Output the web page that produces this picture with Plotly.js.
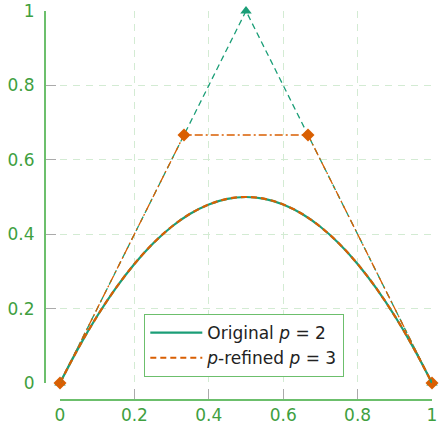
<!DOCTYPE html>
<html><head><meta charset="utf-8">
<script src="https://cdn.plot.ly/plotly-3.0.1.min.js"></script>
<style>html,body{margin:0;padding:0;background:#fff}#c{width:442px;height:424px}</style>
</head><body><div id="c"></div>
<script>
// curve samples
const curveX = [0,0.05,0.1,0.15,0.2,0.25,0.3,0.35,0.4,0.45,0.5,0.55,0.6,0.65,0.7,0.75,0.8,0.85,0.9,0.95,1];
const originalY = [0,0.095,0.18,0.255,0.32,0.375,0.42,0.455,0.48,0.495,0.5,0.495,0.48,0.455,0.42,0.375,0.32,0.255,0.18,0.095,0];
const refinedY  = [0,0.095,0.18,0.255,0.32,0.375,0.42,0.455,0.48,0.495,0.5,0.495,0.48,0.455,0.42,0.375,0.32,0.255,0.18,0.095,0];
// control points
const origCtrlX = [0,0.5,1];
const origCtrlY = [0,1,0];
const refCtrlX = [0,0.3333,0.6667,1];
const refCtrlY = [0,0.6667,0.6667,0];
const tickVals = [0,0.2,0.4,0.6,0.8,1];
const tickText = ['0','0.2','0.4','0.6','0.8','1'];

const teal = '#1b9e77', orange = '#d95f02';
const axisGreen = '#6cbf6c', labelGreen = '#3f9f3f', gridGreen = '#d3ebd3';

const traces = [
  {x: origCtrlX, y: origCtrlY, mode:'lines+markers', showlegend:false, cliponaxis:false,
   line:{color:teal, width:1.3, dash:'6px,4px'},
   marker:{symbol:'triangle-up', size:10, color:teal}},
  {x: refCtrlX, y: refCtrlY, mode:'lines+markers', showlegend:false, cliponaxis:false,
   line:{color:orange, width:1.3, dash:'8px,3px,2px,3px'},
   marker:{symbol:'diamond', size:10, color:orange}},
  {x: curveX, y: originalY, mode:'lines', name:'Original <i>p</i> = 2', cliponaxis:false, line:{color:teal, width:2.2, shape:'spline'}},
  {x: curveX, y: refinedY, mode:'lines', name:'<i>p</i>-refined <i>p</i> = 3', cliponaxis:false, line:{color:orange, width:2.2, dash:'6px,4px', shape:'spline'}}
];

const axisCommon = {range:[0,1], domain:[16/388,1], anchor:'free', position:0,
    tickvals:tickVals, ticktext:tickText, ticks:'inside', ticklen:10, tickcolor:'#aaa', tickwidth:1.2,
    showline:true, linecolor:axisGreen, linewidth:1.5,
    showgrid:true, gridcolor:gridGreen, griddash:'7px,6px', gridwidth:1.2, zeroline:false,
    tickfont:{family:'DejaVu Sans, sans-serif', color:labelGreen, size:17}};

const layout = {
  width:442, height:424,
  margin:{l:44, r:10, t:11, b:25},
  paper_bgcolor:'#fff', plot_bgcolor:'rgba(0,0,0,0)',
  font:{family:'DejaVu Sans, sans-serif', size:17, color:labelGreen},
  showlegend:true,
  xaxis:Object.assign({}, axisCommon, {ticklabelstandoff:0}),
  yaxis:Object.assign({}, axisCommon, {ticklabelstandoff:6}),
  legend:{x:0.258, y:0.057, xanchor:'left', yanchor:'bottom', bgcolor:'#fff',
    bordercolor:axisGreen, borderwidth:1.2, font:{family:'DejaVu Sans, sans-serif', color:'#222', size:17}, tracegroupgap:0, itemwidth:52}
};
Plotly.newPlot('c', traces, layout, {displayModeBar:false, staticPlot:true});
</script></body></html>
